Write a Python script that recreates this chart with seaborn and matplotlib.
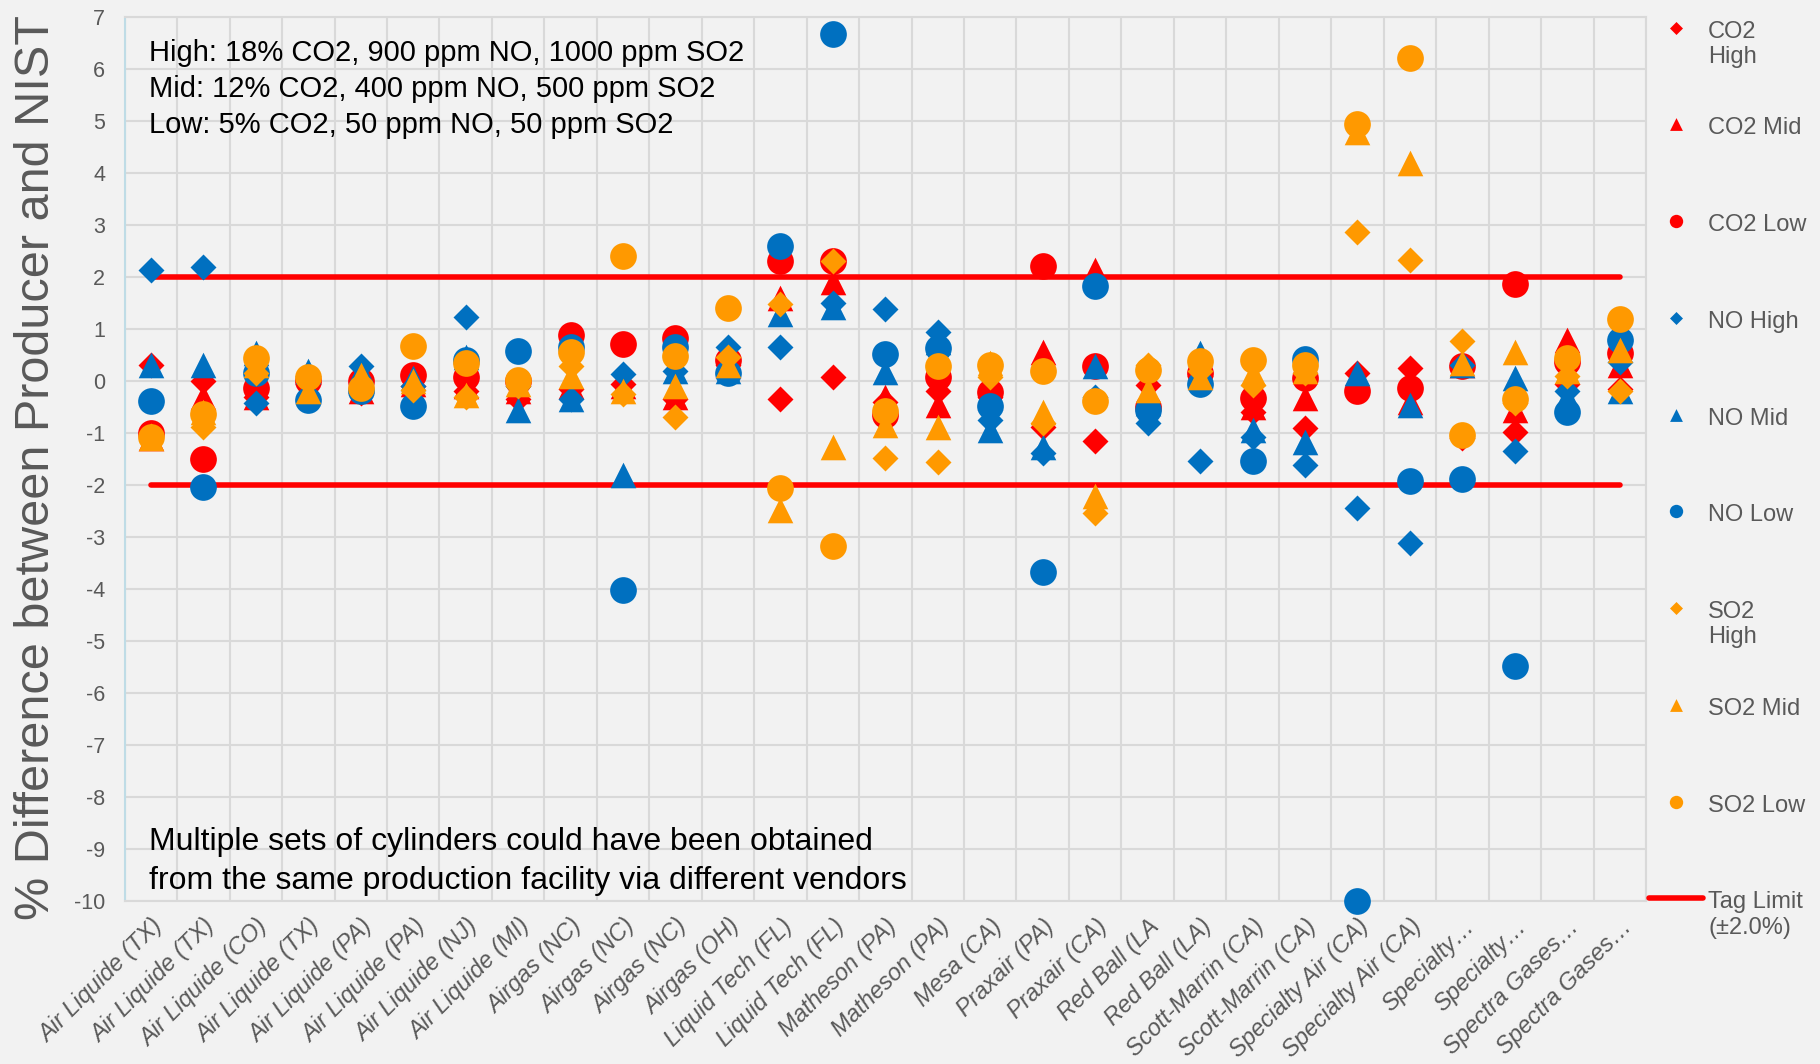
import numpy as np
import pandas as pd
import seaborn as sns
import matplotlib.pyplot as plt
from matplotlib.legend_handler import HandlerLine2D, HandlerPathCollection

# producer / cylinder labels along the x axis
categories = ['Air Liquide (TX)', 'Air Liquide (TX)', 'Air Liquide (CO)', 'Air Liquide (TX)',
              'Air Liquide (PA)', 'Air Liquide (PA)', 'Air Liquide (NJ)', 'Air Liquide (MI)',
              'Airgas (NC)', 'Airgas (NC)', 'Airgas (NC)', 'Airgas (OH)',
              'Liquid Tech (FL)', 'Liquid Tech (FL)', 'Matheson (PA)', 'Matheson (PA)',
              'Mesa (CA)', 'Praxair (PA)', 'Praxair (CA)', 'Red Ball (LA', 'Red Ball (LA)',
              'Scott-Marrin (CA)', 'Scott-Marrin (CA)', 'Specialty Air (CA)', 'Specialty Air (CA)',
              'Specialty…', 'Specialty…', 'Spectra Gases…', 'Spectra Gases…']

# % difference between producer and NIST
co2_high = [0.3, 0.0, -0.3, -0.05, -0.24, -0.1, -0.2, -0.35, -0.15, -0.05, -0.35, 0.3, -0.35, 0.08,
            -0.4, -0.2, -0.3, -0.88, -1.15, -0.08, 0.1, -0.59, -0.91, 0.15, 0.25, -1.1, -0.99, -0.05, -0.15]
co2_mid = [-1.1, -0.3, -0.3, -0.1, -0.2, -0.05, -0.1, -0.2, -0.1, -0.1, -0.3, 0.3, 1.6, 1.9,
           -0.3, -0.46, -0.3, 0.56, 2.13, -0.3, 0.1, -0.5, -0.33, 0.1, -0.4, 0.3, -0.55, 0.78, 0.3]
co2_low = [-1.0, -1.5, -0.13, 0.0, 0.0, 0.12, 0.08, 0.0, 0.88, 0.72, 0.82, 0.4, 2.31, 2.31,
           -0.65, 0.08, -0.22, 2.22, 0.29, -0.5, 0.15, -0.33, 0.05, -0.2, -0.13, 0.29, 1.86, 0.36, 0.53]
no_high = [2.13, 2.2, -0.42, 0.1, 0.28, -0.1, 1.24, -0.1, -0.35, 0.13, 0.2, 0.66, 0.65, 1.5,
           1.39, 0.95, -0.75, -1.39, -0.3, -0.81, -1.54, -1.07, -1.62, -2.45, -3.11, 0.3, -1.35, -0.2, 0.36]
no_mid = [0.31, 0.3, 0.53, 0.2, 0.2, 0.05, 0.47, -0.56, -0.35, -1.8, 0.2, 0.2, 1.28, 1.43,
          0.18, 0.75, -0.94, -1.26, 0.28, -0.43, 0.53, -0.94, -1.17, 0.15, -0.47, 0.3, 0.06, -0.3, -0.2]
no_low = [-0.38, -2.03, 0.15, -0.37, -0.2, -0.49, 0.4, 0.58, 0.66, -4.02, 0.66, 0.15, 2.6, 6.68,
          0.52, 0.63, -0.49, -3.68, 1.83, -0.55, -0.05, -1.53, 0.42, -10.0, -1.93, -1.88, -5.48, -0.59, 0.78]
so2_high = [-1.05, -0.88, 0.15, 0.0, -0.1, -0.17, -0.3, -0.1, 0.28, -0.25, -0.69, 0.47, 1.49, 2.3,
            -1.49, -1.55, 0.08, -0.8, -2.54, 0.3, 0.2, -0.08, 0.15, 2.87, 2.33, 0.77, -0.43, 0.1, -0.2]
so2_mid = [-1.1, -0.6, 0.3, -0.2, 0.12, 0.0, -0.27, -0.05, 0.1, -0.2, -0.1, 0.3, -2.48, -1.26,
           -0.85, -0.88, 0.35, -0.6, -2.22, -0.17, 0.08, 0.15, 0.2, 4.78, 4.2, 0.35, 0.55, 0.2, 0.6]
so2_low = [-1.08, -0.64, 0.44, 0.08, -0.14, 0.67, 0.35, 0.02, 0.56, 2.4, 0.48, 1.41, -2.06, -3.17,
           -0.57, 0.29, 0.3, 0.19, -0.38, 0.21, 0.38, 0.4, 0.31, 4.95, 6.21, -1.03, -0.34, 0.44, 1.2]
tag_limit = 2.0

RED = '#FF0000'
BLUE = '#0070C0'
ORANGE = '#FF9900'
GREY = '#595959'

sns.set_style("whitegrid")
plt.rcParams['font.family'] = ['Liberation Sans', 'DejaVu Sans']
plt.rcParams['axes.unicode_minus'] = False

fig = plt.figure(figsize=(18.2, 10.64), dpi=100, facecolor='#F2F2F2')
ax = fig.add_axes([0.0685, 0.1532, 0.8359, 0.8308])
ax.set_facecolor('#F2F2F2')

pos = np.arange(len(categories))

# tag limit lines (+/- 2 %)
sns.lineplot(x=pos, y=np.full(len(pos), tag_limit), color=RED, lw=4, ax=ax,
             label='Tag Limit\n(±2.0%)', zorder=2, solid_capstyle='round')
sns.lineplot(x=pos, y=np.full(len(pos), -tag_limit), color=RED, lw=4, ax=ax,
             label='_nolegend_', zorder=2, solid_capstyle='round')

series = [
    ('CO2\nHigh', co2_high, 'D', RED, 175),
    ('CO2 Mid\n ', co2_mid, '^', RED, 340),
    ('CO2 Low\n ', co2_low, 'o', RED, 370),
    ('NO High\n ', no_high, 'D', BLUE, 175),
    ('NO Mid\n ', no_mid, '^', BLUE, 340),
    ('NO Low\n ', no_low, 'o', BLUE, 370),
    ('SO2\nHigh', so2_high, 'D', ORANGE, 175),
    ('SO2 Mid\n ', so2_mid, '^', ORANGE, 340),
    ('SO2 Low\n ', so2_low, 'o', ORANGE, 370),
]
for i, (name, vals, mk, col, size) in enumerate(series):
    sns.scatterplot(x=pos, y=vals, marker=mk, color=col, s=size, linewidth=0,
                    label=name, ax=ax, zorder=3 + i * 0.1, clip_on=False)

ax.set_xlim(-0.5, len(categories) - 0.5)
ax.set_ylim(-10, 7)
ax.set_yticks(range(-10, 8))
ax.set_xticks(pos)
ax.set_xticklabels(categories, rotation=45, ha='right', rotation_mode='anchor',
                   style='italic', fontsize=17, color=GREY)
ax.set_xticks(np.arange(-0.5, len(categories), 1), minor=True)
ax.tick_params(axis='both', which='both', length=0)
ax.tick_params(axis='x', pad=10)
ax.tick_params(axis='y', labelsize=15.5, labelcolor=GREY, pad=14)
ax.grid(False)
ax.grid(which='major', axis='y', color='#D9D9D9', lw=1.5)
ax.grid(which='minor', axis='x', color='#D9D9D9', lw=1.5)
ax.set_axisbelow(True)
for s in ['top', 'right', 'bottom']:
    ax.spines[s].set_color('#D9D9D9')
    ax.spines[s].set_linewidth(1.5)
ax.spines['left'].set_color('#BFDCE6')
ax.spines['left'].set_linewidth(1.5)

ax.set_xlabel('')
ax.set_ylabel('% Difference between Producer and NIST', fontsize=35, color=GREY)
ax.yaxis.set_label_coords(-0.043, 0.49)

ax.text(0.016, 0.975, 'High: 18% CO2, 900 ppm NO, 1000 ppm SO2\n'
        'Mid: 12% CO2, 400 ppm NO, 500 ppm SO2\n'
        'Low: 5% CO2, 50 ppm NO, 50 ppm SO2',
        transform=ax.transAxes, fontsize=21, va='top', ha='left', linespacing=1.37, color='black')
ax.text(0.016, 0.006, 'Multiple sets of cylinders could have been obtained\n'
        'from the same production facility via different vendors',
        transform=ax.transAxes, fontsize=23, va='bottom', ha='left', linespacing=1.38, color='black')


# legend keys sit on the first line of each two-line label
class TopLine(HandlerLine2D):
    def create_artists(self, legend, orig_handle, xdescent, ydescent, width, height, fontsize, trans):
        return super().create_artists(legend, orig_handle, xdescent, ydescent, width,
                                      height + 1.44 * fontsize, fontsize, trans)


h, l = ax.get_legend_handles_labels()
order = list(range(1, len(h))) + [0]
hmap = {hh: HandlerPathCollection(yoffsets=[1.52]) for hh in h[1:]}
hmap[h[0]] = TopLine()
leg = ax.legend([h[i] for i in order], [l[i] for i in order], loc='upper left',
                bbox_to_anchor=(1.002, 0.996), frameon=False, fontsize=17, labelcolor=GREY,
                markerscale=0.5, handlelength=2.3, handletextpad=0.2, labelspacing=2.09,
                borderpad=0, borderaxespad=0, handler_map=hmap)

fig.savefig('out.png', dpi=100, facecolor=fig.get_facecolor())
